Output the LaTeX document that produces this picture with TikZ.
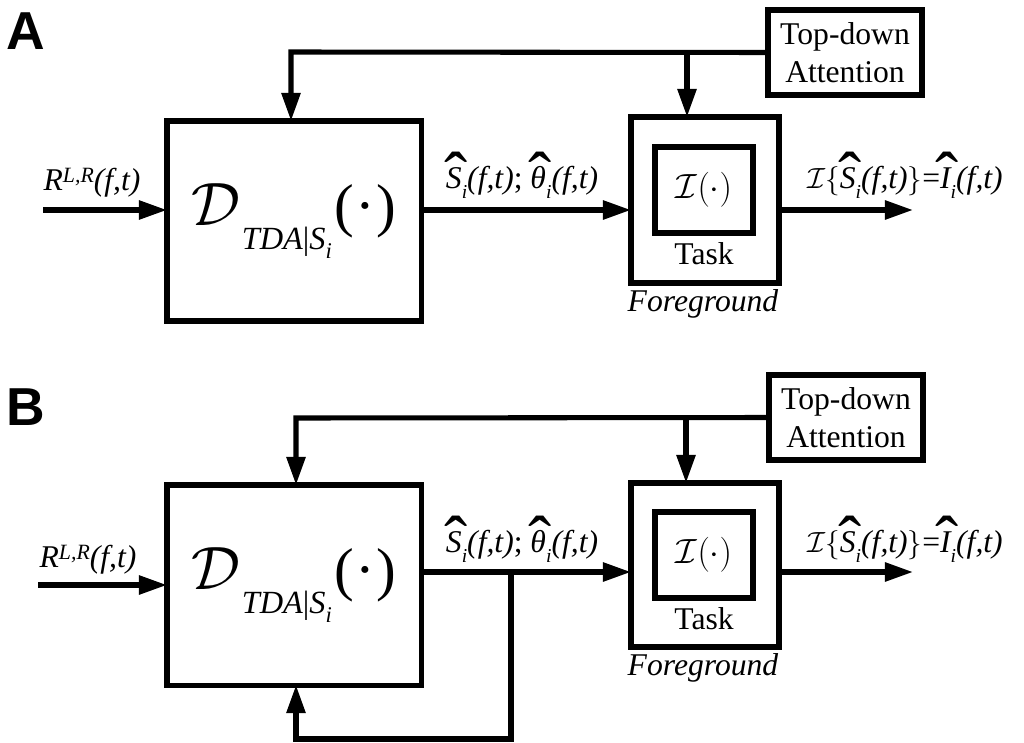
\documentclass[tikz,border=0pt]{standalone}
\usepackage{amsmath}
\usepackage{graphicx}
\usepackage{fontspec}
\setmainfont{Liberation Serif}
\newfontfamily\panelfont{Liberation Sans}
\usetikzlibrary{arrows.meta}

% Italic letter with a tall circumflex above it
\newcommand\hatit[1]{\setbox0\hbox{\itshape #1}%
  \rlap{\makebox[\wd0][c]{\kern0.12em\raisebox{-0.40em}{\scalebox{2.2}[2.2]{ˆ}}}}\box0}
% Lowered italic subscript and raised italic superscript
\newcommand\sub[1]{\raisebox{-0.34em}{\fontsize{14}{14}\selectfont\itshape #1}}
\newcommand\sups[1]{\raisebox{0.24em}{\fontsize{15.5}{15.5}\selectfont\itshape #1}}

% Decoder operator D_{TDA|S_i}(.)
\newcommand\decop{\scalebox{1.75}{\fontsize{24}{24}\selectfont$\mathcal{D}$}\kern1pt%
  \raisebox{-17pt}{\itshape TDA{\upshape|}S\raisebox{-6pt}{\fontsize{16}{16}\selectfont i}}\kern2pt%
  {\fontsize{42}{42}\selectfont(\kern1pt·\kern1pt)}}
\newcommand\ft{\textit{(f,t)}}
\newcommand\inlbl{\textit{R}\sups{L,R}\ft}
\newcommand\midlbl{\hatit{S}\sub{i}\ft; \hatit{θ}\sub{i}\ft}
\newcommand\outlbl{$\mathcal{I}\{$\hatit{S}\sub{i}\ft$\}$=\hatit{I}\sub{i}\ft}

\tikzset{
  wire/.style={line width=3.6pt},
  arr/.style={wire, -{Triangle[length=20pt,width=13pt]}},
  blockbox/.style={draw, line width=3.6pt, outer sep=0pt, inner sep=0pt},
  decbox/.style={blockbox, minimum width=6.35cm, minimum height=5cm,
    font=\fontsize{23}{23}\selectfont},
  fgbox/.style={blockbox, line width=4.6pt, minimum width=3.7cm, minimum height=4.15cm},
  taskbox/.style={blockbox, line width=4pt, minimum width=2.45cm, minimum height=2.15cm,
    font=\fontsize{24}{24}\selectfont},
  tdbox/.style={blockbox, line width=4pt, minimum width=3.85cm, minimum height=2.125cm,
    align=center, font=\fontsize{22.5}{27}\selectfont},
  lbl/.style={inner sep=0pt, anchor=base, font=\fontsize{22.5}{22.5}\selectfont},
  caption/.style={inner sep=0pt, anchor=base, font=\fontsize{22.5}{22.5}\selectfont},
  panel/.style={inner sep=0pt, anchor=base west, font=\panelfont\bfseries\fontsize{38}{38}\selectfont},
}

\begin{document}
\begin{tikzpicture}[x=0.025cm, y=-0.025cm]
\useasboundingbox (0,0) rectangle (1024,742);

% ---------------- Panel A ----------------
\node[panel] (labA) at (6,50) {A};
\node[decbox] (DA) at (294,221) {\decop};
\node[fgbox] (FGA) at (705,200) {};
\node[taskbox] (TA) at (704,190) {$\mathcal{I}(\cdot)$};
\node[caption] (taskA) at (704,264) {Task};
\node[caption] (fgA) at (703,311) {\itshape Foreground};
\node[tdbox] (TDA) at (845,52.5) {Top-down\\Attention};

\coordinate (inA) at (43,210);
\coordinate (outA) at (913,210);
\coordinate (topA) at (291,52);
\coordinate (dropA) at (687,52);

\draw[arr] (inA) -- (inA -| DA.west);
\draw[arr] (DA.east |- inA) -- (FGA.west |- inA);
\draw[arr] (FGA.east |- outA) -- (outA);
\draw[arr] (TDA.west) -- (topA) -- (topA |- DA.north);
\draw[arr] (dropA) -- (dropA |- FGA.north);

\node[lbl] (rA) at (92,190) {\inlbl};
\node[lbl] (sA) at (522,188) {\midlbl};
\node[lbl] (oA) at (905,188) {\outlbl};

% ---------------- Panel B ----------------
\node[panel] (labB) at (6,425) {B};
\node[decbox] (DB) at (294,585) {\decop};
\node[fgbox, minimum height=4.1cm] (FGB) at (705,565) {};
\node[taskbox] (TB) at (704,555) {$\mathcal{I}(\cdot)$};
\node[caption] (taskB) at (704,629) {Task};
\node[caption] (fgB) at (703,675) {\itshape Foreground};
\node[tdbox] (TDB) at (846,417.5) {Top-down\\Attention};

\coordinate (inB) at (38,585);
\coordinate (outB) at (913,572);
\coordinate (topB) at (296,418);
\coordinate (dropB) at (686,418);
\coordinate (tapB) at (511,572);
\coordinate (loopB) at (296,739);

\draw[arr] (inB) -- (inB -| DB.west);
\draw[arr] (DB.east |- outB) -- (FGB.west |- outB);
\draw[arr] (FGB.east |- outB) -- (outB);
\draw[arr] (TDB.west) -- (topB) -- (topB |- DB.north);
\draw[arr] (dropB) -- (dropB |- FGB.north);
\draw[arr] (tapB) |- (loopB) -- (loopB |- DB.south);

\node[lbl] (rB) at (88,567) {\inlbl};
\node[lbl] (sB) at (522,552) {\midlbl};
\node[lbl] (oB) at (905,552) {\outlbl};
\end{tikzpicture}
\end{document}
